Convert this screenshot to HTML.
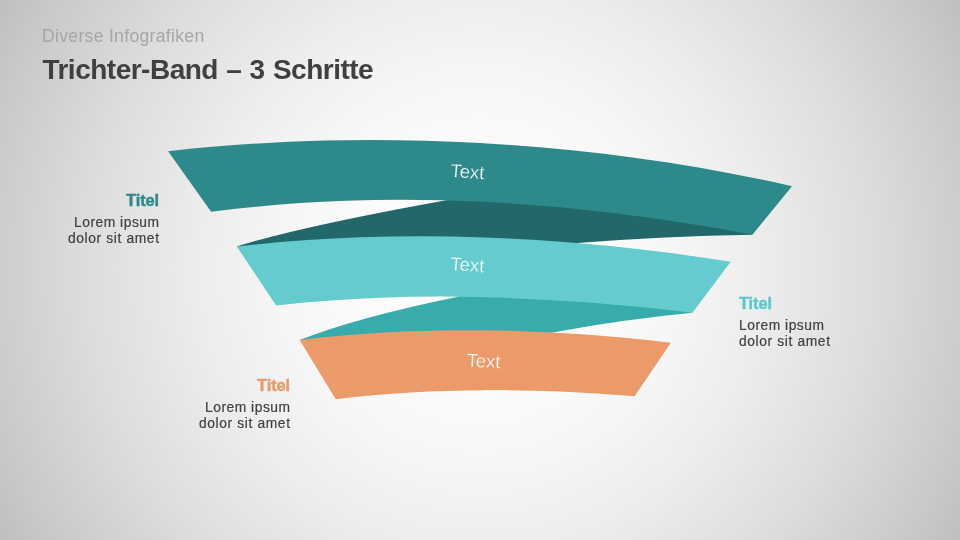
<!DOCTYPE html>
<html lang="de">
<head>
<meta charset="utf-8">
<title>Trichter-Band – 3 Schritte</title>
<style>
html, body { margin: 0; padding: 0; }
body { width: 960px; height: 540px; overflow: hidden; position: relative;
  font-family: "Liberation Sans", sans-serif; color: #404040;
  background: radial-gradient(circle 560px at 480px 270px, rgb(255,255,255) 0.0%, rgb(255,255,255) 5.0%, rgb(254,254,254) 10.0%, rgb(253,253,253) 15.0%, rgb(252,252,252) 20.0%, rgb(250,250,250) 25.0%, rgb(248,248,248) 30.0%, rgb(246,246,246) 35.0%, rgb(243,243,243) 40.0%, rgb(240,240,240) 45.0%, rgb(237,237,237) 50.0%, rgb(233,233,233) 55.0%, rgb(229,229,229) 60.0%, rgb(225,225,225) 65.0%, rgb(221,221,221) 70.0%, rgb(216,216,216) 75.0%, rgb(211,211,211) 80.0%, rgb(206,206,206) 85.0%, rgb(201,201,201) 90.0%, rgb(195,195,195) 95.0%, rgb(189,189,189) 100.0%); }
.stage { position: absolute; left: 0; top: 0; width: 960px; height: 540px; will-change: transform; }
.abs { position: absolute; white-space: nowrap; line-height: 1; }
.sub { left: 42px; top: 28px; font-size: 17.6px; letter-spacing: 0.3px; color: #a6a6a6; }
.title { left: 42.4px; top: 55.6px; font-size: 28px; letter-spacing: -0.5px; word-spacing: 1px; font-weight: bold; color: #404040; }
.lbl { font-size: 13.8px; line-height: 16px; color: #404040; -webkit-text-stroke: 0.2px #404040; }
.lbl b { display: block; font-size: 16.4px; line-height: 20px; margin-bottom: 5px; letter-spacing: -0.1px; -webkit-text-stroke: 0.45px currentColor; }
.lbl span { display: block; letter-spacing: 0.52px; }
.lbl span.l2 { letter-spacing: 0.63px; }
.r span { margin-right: -0.52px; }
.r span.l2 { margin-right: -0.63px; }
.r { text-align: right; }
svg { position: absolute; left: 0; top: 0; }
svg text { font-family: "Liberation Sans", sans-serif; font-size: 18.67px; fill: #ffffff; }
</style>
</head>
<body>
<div class="stage">
<div class="abs sub">Diverse Infografiken</div>
<div class="abs title">Trichter-Band – 3 Schritte</div>

<svg width="960" height="540" viewBox="0 0 960 540">
  <path fill="#22676a" d="M236.80 246.50Q299.26 226.67 445.00 200.39L485.00 191.53L738.40 224.80L752.40 234.80Q665.00 236.14 577.60 243.09L537.60 244.99L250.80 256.50Z"/>
  <path fill="#38abac" d="M299.70 340.00Q355.03 317.83 457.80 296.64L497.80 285.67L678.50 302.80L692.50 312.80Q622.60 319.46 552.70 332.53L512.70 338.17L313.70 350.00Z"/>
  <path fill="#2e898b" d="M168.10 151.20C220.09 145.23 272.08 141.87 324.07 140.62C376.07 139.37 428.06 140.25 480.05 143.11C532.04 145.97 584.03 150.82 636.02 157.88C688.02 164.93 740.01 174.18 792.00 186.20L752.40 234.80C707.29 226.33 662.18 219.19 617.08 213.61C571.97 208.04 526.86 204.02 481.75 201.80C436.64 199.58 391.53 199.15 346.43 200.74C301.32 202.33 256.21 205.94 211.10 211.80Z"/>
  <path fill="#64ccce" d="M236.80 246.50C277.96 241.83 319.12 238.83 360.28 237.36C401.43 235.90 442.59 235.96 483.75 237.42C524.91 238.88 566.07 241.72 607.23 245.82C648.38 249.91 689.54 255.25 730.70 261.70L692.50 312.80C657.80 308.75 623.10 305.28 588.40 302.60C553.70 299.92 519.00 298.02 484.30 297.13C449.60 296.23 414.90 296.34 380.20 297.67C345.50 298.99 310.80 301.53 276.10 305.50Z"/>
  <path fill="#eb9a6a" d="M299.70 340.00C330.62 336.22 361.55 333.59 392.47 332.01C423.40 330.42 454.32 329.88 485.25 330.26C516.17 330.65 547.10 331.96 578.02 334.09C608.95 336.21 639.88 339.16 670.80 342.80L634.60 396.20C609.69 394.23 584.78 392.66 559.88 391.61C534.97 390.56 510.06 390.03 485.15 390.13C460.24 390.23 435.33 390.96 410.43 392.44C385.52 393.91 360.61 396.13 335.70 399.20Z"/>
  <text x="450.1" y="176.7" transform="rotate(4.3 450.1 176.7)" letter-spacing="-0.1" stroke="#2e898b" stroke-width="0.3">Text</text>
  <text x="450.1" y="269.9" transform="rotate(4.0 450.1 269.9)" letter-spacing="-0.1" stroke="#64ccce" stroke-width="0.3">Text</text>
  <text x="466.4" y="366.6" transform="rotate(2.6 466.4 366.6)" letter-spacing="-0.1" stroke="#eb9a6a" stroke-width="0.3">Text</text>
</svg>

<div class="abs lbl r" style="right: 801px; top: 190px;"><b style="color:#2e898b">Titel</b><span>Lorem ipsum</span><span class="l2">dolor sit amet</span></div>
<div class="abs lbl" style="left: 739px; top: 293px;"><b style="color:#5cc8cb">Titel</b><span>Lorem ipsum</span><span class="l2">dolor sit amet</span></div>
<div class="abs lbl r" style="right: 670px; top: 375px;"><b style="color:#eb9a6a">Titel</b><span>Lorem ipsum</span><span class="l2">dolor sit amet</span></div>
</div>
</body>
</html>
